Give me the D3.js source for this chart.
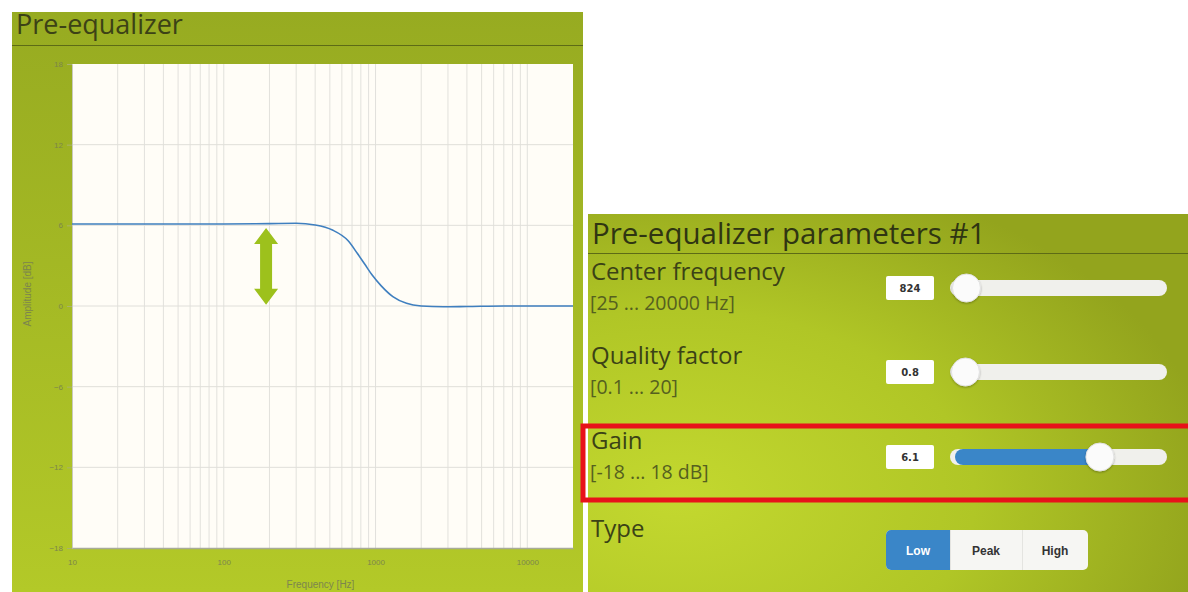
<!DOCTYPE html>
<html><head><meta charset="utf-8">
<script src="https://cdn.jsdelivr.net/npm/d3@7"></script>
<style>
html,body{margin:0;padding:0;background:#fff;}
svg{display:block;}
</style></head><body>
<svg id="c" width="1188" height="592"></svg>
<script>
// ---------- data ----------
const freqHz      = [10, 30, 100, 200, 300, 400, 520, 660, 760, 850, 950, 1090, 1300, 1600, 2000, 2800, 4000, 7000, 20000];
const amplitudeDb = [6.1, 6.1, 6.1, 6.13, 6.15, 6.02, 5.65, 4.85, 3.9, 3.1, 2.3, 1.5, 0.7, 0.2, 0.0, -0.06, -0.04, 0, 0];
const yTickValues = [18, 12, 6, 0, -6, -12, -18];
const xTickValues = [10, 100, 1000, 10000];
const arrowFreq = 190, arrowFromDb = 0.1, arrowToDb = 5.8;

const paramLabels = ["Center frequency", "Quality factor", "Gain"];
const paramRanges = ["[25 ... 20000 Hz]", "[0.1 ... 20]", "[-18 ... 18 dB]"];
const paramValues = [824, 0.8, 6.1];
const paramMin    = [25, 0.1, -18];
const paramMax    = [20000, 20, 18];
const typeOptions = ["Low", "Peak", "High"];
const typeSelected = "Low";

// ---------- setup ----------
const svg = d3.select("#c");
const defs = svg.append("defs");
const lg = defs.append("linearGradient").attr("id","lg").attr("x1",0).attr("y1",0).attr("x2",0).attr("y2",1);
lg.append("stop").attr("offset","0%").attr("stop-color","#97ab21");
lg.append("stop").attr("offset","100%").attr("stop-color","#b3c928");
const rg = defs.append("radialGradient").attr("id","rg").attr("cx","15%").attr("cy","75%").attr("r","90%");
rg.append("stop").attr("offset","0%").attr("stop-color","#c3d82f");
rg.append("stop").attr("offset","55%").attr("stop-color","#b0c626");
rg.append("stop").attr("offset","100%").attr("stop-color","#93a41d");
const sh = defs.append("filter").attr("id","sh").attr("x","-50%").attr("y","-50%").attr("width","200%").attr("height","200%");
sh.append("feDropShadow").attr("dx",0).attr("dy",1).attr("stdDeviation",1.2).attr("flood-color","#000").attr("flood-opacity",0.3);

// ---------- left panel ----------
svg.append("rect").attr("x",12).attr("y",12).attr("width",571).attr("height",580).attr("fill","url(#lg)");
svg.append("text").attr("x",16).attr("y",34).text("Pre-equalizer")
  .attr("font-family","'Open Sans', sans-serif").attr("font-size",27).attr("fill","#3c4216");
svg.append("line").attr("x1",12).attr("x2",583).attr("y1",45.5).attr("y2",45.5).attr("stroke","#5d6b16").attr("stroke-width",1);

const x = d3.scaleLog().domain([10, 20000]).range([72, 573]);
const y = d3.scaleLinear().domain([-18, 18]).range([548, 64]);

svg.append("rect").attr("x",x.range()[0]).attr("y",y(18)).attr("width",x.range()[1]-x.range()[0]).attr("height",y(-18)-y(18)).attr("fill","#fffdf7");

// grid
const gridF = x.ticks().filter(d => d > 10 && d < 20000);
svg.append("g").selectAll("line").data(gridF).join("line")
  .attr("x1",d=>x(d)).attr("x2",d=>x(d)).attr("y1",y(18)).attr("y2",y(-18))
  .attr("stroke","#e2e1dc").attr("stroke-width",1);
svg.append("g").selectAll("line").data(yTickValues.filter(d=>d>-18 && d<18)).join("line")
  .attr("x1",x(10)).attr("x2",x(20000)).attr("y1",d=>y(d)).attr("y2",d=>y(d))
  .attr("stroke","#e0dfda").attr("stroke-width",1);

// axes
const yAxis = svg.append("g").attr("transform",`translate(${x(10)},0)`)
  .call(d3.axisLeft(y).tickValues(yTickValues).tickSize(5).tickPadding(4).tickFormat(d3.format("d")));
const xAxis = svg.append("g").attr("transform",`translate(0,${y(-18)})`)
  .call(d3.axisBottom(x).tickValues(xTickValues).tickSize(0).tickPadding(11).tickFormat(d3.format("d")));
[yAxis, xAxis].forEach(g => {
  g.selectAll("text").attr("font-family","'Liberation Sans', Arial, sans-serif").attr("font-size",8).attr("fill","#7c864d");
  g.selectAll(".tick line").attr("stroke","#a9b26d");
});
yAxis.select(".domain").attr("stroke","#c9c9bd");
xAxis.select(".domain").attr("stroke","#a8ab98").attr("stroke-width",1.5);

svg.append("text").attr("transform",`translate(31,${(y(18)+y(-18))/2 - 12}) rotate(-90)`).attr("text-anchor","middle")
  .attr("font-family","'Liberation Sans', Arial, sans-serif").attr("font-size",10).attr("fill","#7c864d").text("Amplitude [dB]");
svg.append("text").attr("x",(x(10)+x(20000))/2 - 2).attr("y",588).attr("text-anchor","middle")
  .attr("font-family","'Liberation Sans', Arial, sans-serif").attr("font-size",10).attr("fill","#7c864d").text("Frequency [Hz]");

// curve
const pts = freqHz.map((f,i)=>[f, amplitudeDb[i]]);
svg.append("path").datum(pts)
  .attr("d", d3.line().x(d=>x(d[0])).y(d=>y(d[1])).curve(d3.curveMonotoneX))
  .attr("fill","none").attr("stroke","#3f7fbf").attr("stroke-width",1.6);

// arrow annotation
(function(){
  const ax = x(arrowFreq), y1 = y(arrowToDb), y2 = y(arrowFromDb);
  const hw = 12, sw = 6, hh = 16;
  const p = d3.path();
  p.moveTo(ax, y1); p.lineTo(ax+hw, y1+hh); p.lineTo(ax+sw, y1+hh); p.lineTo(ax+sw, y2-hh);
  p.lineTo(ax+hw, y2-hh); p.lineTo(ax, y2); p.lineTo(ax-hw, y2-hh); p.lineTo(ax-sw, y2-hh);
  p.lineTo(ax-sw, y1+hh); p.lineTo(ax-hw, y1+hh); p.closePath();
  svg.append("path").attr("d", p.toString()).attr("fill","#9dc11c");
})();

// ---------- right panel ----------
svg.append("rect").attr("x",588).attr("y",214).attr("width",600).attr("height",378).attr("fill","url(#rg)");
svg.append("text").attr("x",592).attr("y",244).text("Pre-equalizer parameters #1")
  .attr("font-family","'Open Sans', sans-serif").attr("font-size",29.5).attr("fill","#2f3512");
svg.append("line").attr("x1",588).attr("x2",1188).attr("y1",253.5).attr("y2",253.5).attr("stroke","#5d6b16").attr("stroke-width",1);

const rowY = [288, 372, 457];
const knobX = d3.scaleLinear().range([958, 1170]);
paramLabels.forEach((lab, i) => {
  const cy = rowY[i];
  svg.append("text").attr("x",591).attr("y",cy-8).text(lab)
    .attr("font-family","'Open Sans', sans-serif").attr("font-size",24).attr("fill","#3b4216");
  svg.append("text").attr("x",590).attr("y",cy+22).text(paramRanges[i])
    .attr("font-family","'Open Sans', sans-serif").attr("font-size",19.5).attr("fill","#55601f");
  svg.append("rect").attr("x",886).attr("y",cy-12).attr("width",48).attr("height",24).attr("rx",2).attr("fill","#ffffff");
  svg.append("text").attr("x",910).attr("y",cy+4).attr("text-anchor","middle").text(paramValues[i])
    .attr("font-family","'DejaVu Sans', sans-serif").attr("font-weight","bold").attr("font-size",10).attr("fill","#333");
  knobX.domain([paramMin[i], paramMax[i]]);
  const kx = knobX(paramValues[i]);
  svg.append("rect").attr("x",950).attr("y",cy-8).attr("width",217).attr("height",16).attr("rx",8).attr("fill","#f0f0ec");
  svg.append("rect").attr("x",955).attr("y",cy-8).attr("width",Math.max(0,kx-955)).attr("height",16).attr("rx",8).attr("fill","#3a86c8");
  svg.append("circle").attr("cx",kx).attr("cy",cy).attr("r",14).attr("fill","#fbfbfb").attr("stroke","#e2e2e2").attr("filter","url(#sh)");
});

// highlight box around Gain row
svg.append("rect").attr("x",583).attr("y",426).attr("width",620).attr("height",74)
  .attr("fill","none").attr("stroke","#e8121a").attr("stroke-width",5);

// Type
svg.append("text").attr("x",591).attr("y",537).text("Type")
  .attr("font-family","'Open Sans', sans-serif").attr("font-size",24).attr("fill","#3b4216");
const bw = [64, 72, 66];
let cx = 886;
const btnG = svg.append("g");
btnG.append("rect").attr("x",886).attr("y",530).attr("width",202).attr("height",40).attr("rx",5).attr("fill","#f6f6f3");
typeOptions.forEach((t,i) => {
  const w = bw[i];
  if (t === typeSelected) {
    btnG.append("path").attr("d", `M${cx+5},530 H${cx+w} V570 H${cx+5} A5,5 0 0 1 ${cx},565 V535 A5,5 0 0 1 ${cx+5},530 Z`).attr("fill","#3a86c8");
  } else if (i > 0) {
    btnG.append("line").attr("x1",cx+0.5).attr("x2",cx+0.5).attr("y1",530).attr("y2",570).attr("stroke","#e4e4e0");
  }
  btnG.append("text").attr("x",cx+w/2).attr("y",555).attr("text-anchor","middle").text(t)
    .attr("font-family","'Liberation Sans', Arial, sans-serif").attr("font-weight","bold").attr("font-size",12)
    .attr("fill", t===typeSelected ? "#ffffff" : "#333333");
  cx += w;
});
</script>
</body></html>
